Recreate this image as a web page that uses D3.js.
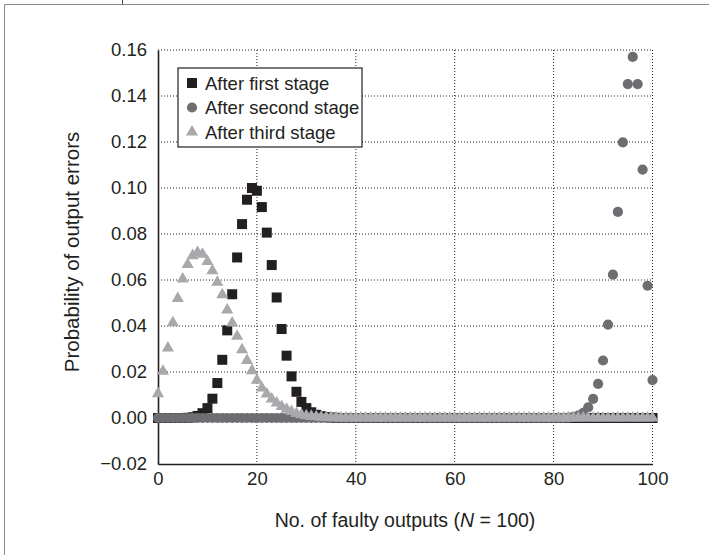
<!DOCTYPE html>
<html>
<head>
<meta charset="utf-8">
<script src="https://cdn.jsdelivr.net/npm/d3@7"></script>
<style>
  body { margin: 0; background: #fff; }
  text { font-family: "Liberation Sans", Arial, Helvetica, sans-serif; fill: #231f20; }
</style>
</head>
<body>
<script>
// faulty outputs 0..100
var faulty = d3.range(0, 101);

var firstStage = [
  0, 0, 0, 0, 0, 0, 0.0001, 0.0003, 0.0009, 0.0021,
  0.0043, 0.0084, 0.0152, 0.0253, 0.0381, 0.0538, 0.0698, 0.0843, 0.0949, 0.1000,
  0.0988, 0.0917, 0.0806, 0.0665, 0.0524, 0.0387, 0.0271, 0.0181, 0.0114, 0.0070,
  0.0043, 0.0025, 0.0014, 0.0008, 0.0004, 0.0002, 0.0001, 0, 0, 0,
  0, 0, 0, 0, 0, 0, 0, 0, 0, 0,
  0, 0, 0, 0, 0, 0, 0, 0, 0, 0,
  0, 0, 0, 0, 0, 0, 0, 0, 0, 0,
  0, 0, 0, 0, 0, 0, 0, 0, 0, 0,
  0, 0, 0, 0, 0, 0, 0, 0, 0, 0,
  0, 0, 0, 0, 0, 0, 0, 0, 0, 0,
  0
];

var secondStage = [
  0, 0, 0, 0, 0, 0, 0, 0, 0, 0,
  0, 0, 0, 0, 0, 0, 0, 0, 0, 0,
  0, 0, 0, 0, 0, 0, 0, 0, 0, 0,
  0, 0, 0, 0, 0, 0, 0, 0, 0, 0,
  0, 0, 0, 0, 0, 0, 0, 0, 0, 0,
  0, 0, 0, 0, 0, 0, 0, 0, 0, 0,
  0, 0, 0, 0, 0, 0, 0, 0, 0, 0,
  0, 0, 0, 0, 0, 0, 0, 0, 0, 0,
  0, 0, 0, 0.0002, 0.0005, 0.0010, 0.0022, 0.0046, 0.0083, 0.0148,
  0.0250, 0.0406, 0.0623, 0.0896, 0.1198, 0.1452, 0.1570, 0.1452, 0.1080, 0.0575,
  0.0165
];

var thirdStage = [
  0.0106, 0.0203, 0.0304, 0.0414, 0.0520, 0.0604, 0.0667, 0.0706, 0.0720, 0.0712,
  0.0680, 0.0640, 0.0590, 0.0536, 0.0470, 0.0413, 0.0355, 0.0297, 0.0250, 0.0206,
  0.0164, 0.0130, 0.0104, 0.0083, 0.0065, 0.0050, 0.0038, 0.0028, 0.0020, 0.0014,
  0.0010, 0.0007, 0.0005, 0.0003, 0.0002, 0.0001, 0.0001, 0, 0, 0,
  0, 0, 0, 0, 0, 0, 0, 0, 0, 0,
  0, 0, 0, 0, 0, 0, 0, 0, 0, 0,
  0, 0, 0, 0, 0, 0, 0, 0, 0, 0,
  0, 0, 0, 0, 0, 0, 0, 0, 0, 0,
  0, 0, 0, 0, 0, 0, 0, 0, 0, 0,
  0, 0, 0, 0, 0, 0, 0, 0, 0, 0,
  0
];

var seriesNames = ["After first stage", "After second stage", "After third stage"];
var xTicks = [0, 20, 40, 60, 80, 100];
var yTicks = [-0.02, 0, 0.02, 0.04, 0.06, 0.08, 0.10, 0.12, 0.14, 0.16];

var width = 709, height = 555;

var svg = d3.select("body").append("svg")
  .attr("width", width)
  .attr("height", height);

// frame lines of the page
svg.append("line").attr("x1", 4.5).attr("y1", 4.5).attr("x2", width).attr("y2", 4.5)
  .attr("stroke", "#888").attr("stroke-width", 1);
svg.append("line").attr("x1", 4.5).attr("y1", 4.5).attr("x2", 4.5).attr("y2", height)
  .attr("stroke", "#888").attr("stroke-width", 1);
svg.append("line").attr("x1", 122.5).attr("y1", 0).attr("x2", 122.5).attr("y2", 4.5)
  .attr("stroke", "#444").attr("stroke-width", 1);

var x = d3.scaleLinear().domain([0, 100]).range([158, 652.5]);
var y = d3.scaleLinear().domain([-0.02, 0.16]).range([464, 50]);

// dotted grid
var grid = svg.append("g");
grid.selectAll(".gy").data(yTicks.slice(1)).enter().append("line")
  .attr("x1", x(0)).attr("x2", x(100))
  .attr("y1", function(d) { return y(d); }).attr("y2", function(d) { return y(d); })
  .attr("stroke", "#231f20").attr("stroke-width", 1).attr("stroke-dasharray", "1,2");
grid.selectAll(".gx").data(xTicks.slice(1)).enter().append("line")
  .attr("x1", function(d) { return x(d); }).attr("x2", function(d) { return x(d); })
  .attr("y1", y(0.16)).attr("y2", y(-0.02))
  .attr("stroke", "#231f20").attr("stroke-width", 1).attr("stroke-dasharray", "1,2");

// axes
var xAxis = d3.axisBottom(x).tickValues(xTicks).tickSize(0).tickPadding(8)
  .tickFormat(d3.format("d"));
var yAxis = d3.axisLeft(y).tickValues(yTicks).tickSize(0).tickPadding(11)
  .tickFormat(function(d) { return d3.format(".2f")(d).replace("-", "\u2013"); });

var gx = svg.append("g").attr("transform", "translate(0," + y(-0.02) + ")").call(xAxis);
var gy = svg.append("g").attr("transform", "translate(" + x(0) + ",0)").call(yAxis);
[gx, gy].forEach(function(g) {
  g.select(".domain").attr("stroke", "#231f20").attr("stroke-width", 1.6);
  g.selectAll("text").attr("font-size", 18.5).attr("fill", "#231f20")
    .style("font-family", "'Liberation Sans', Arial, sans-serif");
});

// points
var sym = {
  square: d3.symbol().type(d3.symbolSquare).size(100),
  circle: d3.symbol().type(d3.symbolCircle).size(82),
  triangle: d3.symbol().type(d3.symbolTriangle).size(64)
};
var series = [
  { name: seriesNames[0], values: firstStage, shape: "square", color: "#231f20" },
  { name: seriesNames[1], values: secondStage, shape: "circle", color: "#6d6e71" },
  { name: seriesNames[2], values: thirdStage, shape: "triangle", color: "#a7a9ac" }
];

series.forEach(function(s) {
  svg.append("g").selectAll("path").data(faulty).enter().append("path")
    .attr("d", sym[s.shape])
    .attr("fill", s.color)
    .attr("transform", function(d) { return "translate(" + x(d) + "," + y(s.values[d]) + ")"; });
});

// legend
var leg = svg.append("g").attr("transform", "translate(178,68)");
leg.append("rect").attr("width", 184).attr("height", 79)
  .attr("fill", "#fff").attr("stroke", "#231f20").attr("stroke-width", 1.2);
series.forEach(function(s, i) {
  var row = leg.append("g").attr("transform", "translate(14," + (15 + i * 24.5) + ")");
  row.append("path").attr("d", sym[s.shape]).attr("fill", s.color);
  row.append("text").attr("x", 13).attr("y", 6.5).attr("font-size", 18.5).text(s.name);
});

// axis titles
var xt = svg.append("text").attr("x", 405).attr("y", 527)
  .attr("text-anchor", "middle").attr("font-size", 19.5);
xt.append("tspan").text("No. of faulty outputs (");
xt.append("tspan").attr("font-style", "italic").text("N");
xt.append("tspan").text(" = 100)");

svg.append("text")
  .attr("transform", "translate(79,252) rotate(-90)")
  .attr("text-anchor", "middle").attr("font-size", 20.5)
  .text("Probability of output errors");
</script>
</body>
</html>
